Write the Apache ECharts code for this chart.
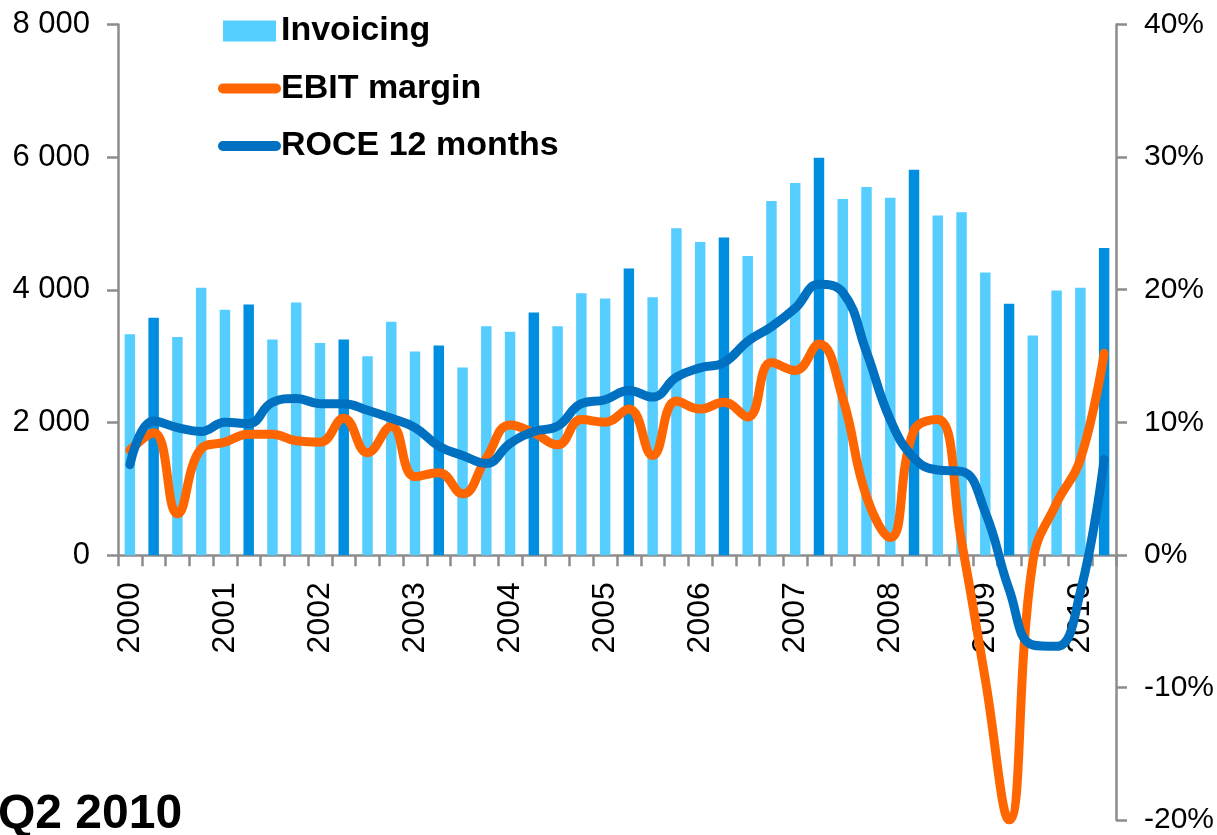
<!DOCTYPE html>
<html>
<head>
<meta charset="utf-8">
<title>Invoicing, EBIT margin, ROCE</title>
<script src="https://cdn.jsdelivr.net/npm/echarts@6/dist/echarts.min.js"></script>
<style>
  html, body { margin: 0; padding: 0; background: #fff; }
  #chart { width: 1217px; height: 835px; }
</style>
</head>
<body>
<div id="chart"></div>
<script>
// quarterly data, Q1 2000 .. Q2 2010
const years = [2000, 2001, 2002, 2003, 2004, 2005, 2006, 2007, 2008, 2009, 2010]
const quarters = []
years.forEach(y => {
    for (let q = 1; q <= 4; q++) {
        if (y === 2010 && q > 2) break
        quarters.push('Q' + q + ' ' + y)
    }
})

const invoicing = [3330, 3580, 3290, 4030, 3700, 3780, 3250, 3810, 3200, 3250,
    3000, 3520, 3070, 3160, 2830, 3450, 3370, 3660, 3450, 3950,
    3870, 4320, 3890, 4930, 4720, 4790, 4510, 5340, 5610, 5990,
    5370, 5550, 5390, 5810, 5120, 5170, 4260, 3790, 3310, 3990,
    4030, 4630]

const ebitMargin = [7.9, 9.2, 3.1, 8.0, 8.5, 9.1, 9.1, 8.6, 8.5, 10.3,
    7.7, 9.7, 5.9, 6.2, 4.6, 7.3, 9.8, 9.2, 8.3, 10.2,
    10.0, 11.0, 7.5, 11.6, 11.0, 11.5, 10.4, 14.5, 13.9, 15.9,
    11.8, 4.4, 1.3, 9.4, 10.2, 1.0, -9.4, -20.0, -0.5, 3.9,
    7.2, 15.2]

const roce = [6.8, 10.1, 9.6, 9.3, 10.0, 9.9, 11.5, 11.8, 11.4, 11.4,
    10.9, 10.3, 9.6, 8.2, 7.5, 6.9, 8.4, 9.3, 9.7, 11.4,
    11.7, 12.4, 11.9, 13.4, 14.1, 14.5, 16.1, 17.2, 18.6, 20.4,
    19.8, 15.3, 10.2, 7.3, 6.4, 6.3, 3.2, -2.6, -6.8, -6.9,
    -2.8, 7.2]

const leftTicks = [0, 8000, 2000]   // min, max, interval
const rightTicks = [-20, 40, 10]

const LIGHT = '#55CDFF'
const DARK = '#008EE0'
const ORANGE = '#FF6600'
const BLUE = '#0070C0'
const AXIS = '#8c8c8c'
const FONT = "'Liberation Sans', Arial, sans-serif"

// Q2 of every year is drawn in the darker blue
const barData = invoicing.map((v, i) => i % 4 === 1 ? { value: v, itemStyle: { color: DARK } } : v)

const chart = echarts.init(document.getElementById('chart'))
chart.setOption({
    animation: false,
    backgroundColor: '#fff',
    textStyle: { fontFamily: FONT },
    title: {
        text: 'Q2 2010',
        left: -2,
        top: 791,
        padding: 0,
        textStyle: { fontSize: 48, fontWeight: 'bold', color: '#000', fontFamily: FONT }
    },
    legend: {
        orient: 'vertical',
        left: 218,
        top: 14,
        padding: 0,
        itemWidth: 53,
        itemHeight: 21,
        itemGap: 23.5,
        textStyle: { fontSize: 34, fontWeight: 'bold', color: '#000', lineHeight: 31, fontFamily: FONT },
        data: [
            { name: 'Invoicing', icon: 'rect', itemStyle: { color: LIGHT } },
            { name: 'EBIT margin', itemStyle: { opacity: 0 }, lineStyle: { width: 10, cap: 'round', color: ORANGE } },
            { name: 'ROCE 12 months', itemStyle: { opacity: 0 }, lineStyle: { width: 10, cap: 'round', color: BLUE } }
        ]
    },
    grid: [
        { left: 118, right: 101, top: 24.5, height: 530.7, containLabel: false, outerBoundsMode: 'none' },
        { left: 118, right: 101, top: 24.5, height: 795.5, containLabel: false, outerBoundsMode: 'none' }
    ],
    xAxis: [
        {
            type: 'category',
            gridIndex: 0,
            data: quarters,
            boundaryGap: true,
            axisLine: { lineStyle: { color: AXIS, width: 2.5 } },
            axisTick: { show: true, interval: 0, length: 11, lineStyle: { color: AXIS, width: 2.5 } },
            axisLabel: {
                interval: 0,
                rotate: 90,
                margin: 27,
                fontSize: 32,
                color: '#000',
                fontFamily: FONT,
                formatter: v => v.indexOf('Q1') === 0 ? v.slice(3) : ''
            }
        },
        {
            type: 'category',
            gridIndex: 1,
            data: quarters,
            boundaryGap: true,
            show: false
        }
    ],
    yAxis: [
        {
            type: 'value',
            gridIndex: 0,
            position: 'left',
            min: leftTicks[0],
            max: leftTicks[1],
            interval: leftTicks[2],
            splitLine: { show: false },
            axisLine: { show: true, lineStyle: { color: AXIS, width: 2.5 } },
            axisTick: { show: true, length: 11, lineStyle: { color: AXIS, width: 2.5 } },
            axisLabel: {
                margin: 28,
                fontSize: 31,
                color: '#000',
                fontFamily: FONT,
                formatter: v => String(v).replace(/\B(?=(\d{3})+(?!\d))/g, ' ')
            }
        },
        {
            type: 'value',
            gridIndex: 1,
            position: 'right',
            min: rightTicks[0],
            max: rightTicks[1],
            interval: rightTicks[2],
            splitLine: { show: false },
            axisLine: { show: true, lineStyle: { color: AXIS, width: 2.5 } },
            axisTick: { show: true, length: 11, lineStyle: { color: AXIS, width: 2.5 } },
            axisLabel: {
                margin: 28,
                fontSize: 30,
                color: '#000',
                fontFamily: FONT,
                formatter: v => v + '%'
            }
        }
    ],
    series: [
        {
            name: 'Invoicing',
            type: 'bar',
            xAxisIndex: 0,
            yAxisIndex: 0,
            barWidth: '44%',
            itemStyle: { color: LIGHT },
            data: barData
        },
        {
            name: 'EBIT margin',
            type: 'line',
            xAxisIndex: 1,
            yAxisIndex: 1,
            smooth: 0.45,
            symbol: 'none',
            lineStyle: { color: ORANGE, width: 9, cap: 'round', join: 'round' },
            itemStyle: { color: ORANGE },
            data: ebitMargin
        },
        {
            name: 'ROCE 12 months',
            type: 'line',
            xAxisIndex: 1,
            yAxisIndex: 1,
            smooth: 0.45,
            symbol: 'none',
            lineStyle: { color: BLUE, width: 9, cap: 'round', join: 'round' },
            itemStyle: { color: BLUE },
            data: roce
        }
    ]
})
</script>
</body>
</html>
